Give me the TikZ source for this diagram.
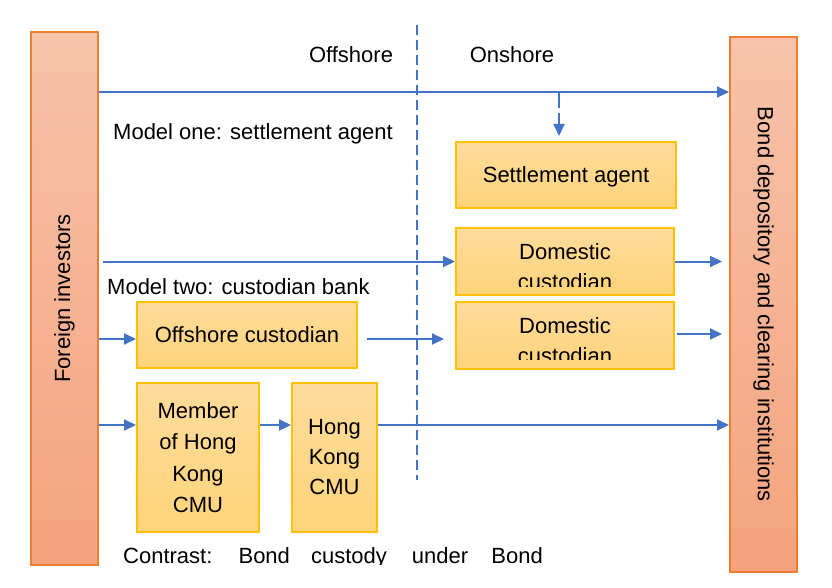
\documentclass[tikz,border=0pt]{standalone}
\usepackage{fontspec}
\setmainfont{Liberation Sans}
\usetikzlibrary{arrows.meta}

\definecolor{barTop}{HTML}{F7C3AA}
\definecolor{barBot}{HTML}{F4A37D}
\definecolor{barLine}{HTML}{ED7D31}
\definecolor{boxTop}{HTML}{FFDC9C}
\definecolor{boxBot}{HTML}{FFD37A}
\definecolor{boxLine}{HTML}{FFC000}
\definecolor{flowBlue}{HTML}{4472C4}

\tikzset{
  sidebar/.style={draw=barLine, line width=2pt, top color=barTop, bottom color=barBot,
    minimum width=67pt, inner sep=0pt},
  agentbox/.style={draw=boxLine, line width=2pt, top color=boxTop, bottom color=boxBot,
    align=center, inner sep=0pt},
  flow/.style={draw=flowBlue, line width=2pt, -{Triangle[length=12pt,width=11pt]}},
  caption/.style={inner sep=0pt}
}

\begin{document}
\begin{tikzpicture}[x=1pt, y=-1pt, font=\fontsize{22}{31}\selectfont]
    \useasboundingbox (0,0) rectangle (832,588);

    %side bars:
    \node[sidebar, minimum height=533pt, label={[rotate=90]center:Foreign investors}] (inv) at (64.5,298.5) {};
    \node[sidebar, minimum height=535pt, label={[rotate=-90]center:Bond depository and clearing institutions}] (dep) at (763.5,304.5) {};

    %boxes:
    \node[agentbox, minimum width=220pt, minimum height=66pt, text depth=0pt] (settle) at (566,175) {Settlement agent};
    \node[agentbox, minimum width=218pt, minimum height=67pt] (dom1) at (565,261.5) {};
    \node[agentbox, minimum width=220pt, minimum height=66pt] (offc) at (247,335) {Offshore custodian};
    \node[agentbox, minimum width=218pt, minimum height=67pt] (dom2) at (565,335.5) {};
    \node[agentbox, minimum width=122pt, minimum height=149pt, font=\fontsize{22}{31.5}\selectfont] (member) at (198,457.5) {Member\\of Hong\\Kong\\CMU};
    \node[agentbox, minimum width=85pt, minimum height=149pt, font=\fontsize{22}{30}\selectfont] (cmu) at (334.5,457.5) {Hong\\Kong\\CMU};

    %cut-off texts:
    \begin{scope}
        \clip (dom1.north west) rectangle ([yshift=10pt]dom1.south east);
        \node[caption, anchor=north, align=center, font=\fontsize{22}{30}\selectfont] (dom1text) at ([yshift=-16pt]dom1.north) {Domestic\\custodian};
    \end{scope}
    \begin{scope}
        \clip (dom2.north west) rectangle ([yshift=11pt]dom2.south east);
        \node[caption, anchor=north, align=center, font=\fontsize{22}{30}\selectfont] (dom2text) at ([yshift=-16pt]dom2.north) {Domestic\\custodian};
    \end{scope}
    \begin{scope}
        \clip (100,530) rectangle (600,564);
        \node[caption, anchor=base west] (contrast) at (123,563) {Contrast:\hspace{18pt} Bond\hspace{15pt} custody\hspace{19pt} under\hspace{17pt} Bond};
    \end{scope}

    %labels:
    \node[caption] (offlabel) at (351,54.5) {Offshore};
    \node[caption] (onlabel) at (512,54.5) {Onshore};
    \node[caption, anchor=base west] (modelone) at (113,140) {Model one: settlement agent};
    \node[caption, anchor=base west] (modeltwo) at (107,294) {Model two: custodian bank};

    %offshore / onshore border:
    \coordinate (divtop) at (417,25);
    \coordinate (divbot) at (417,480);
    \draw[flowBlue, line width=2pt, dash pattern=on 10pt off 5pt] (divtop) -- (divbot);

    %model one:
    \coordinate (rowone) at (0,92);
    \coordinate (split) at (559,92);
    \draw[flow] (inv.east |- rowone) -- (dep.west |- rowone);
    \draw[flow, dash pattern=on 16pt off 5pt, shorten >=5pt] (split) -- (split |- settle.north);

    %model two:
    \draw[flow, shorten <=4pt] (inv.east |- dom1.west) -- (dom1.west);
    \draw[flow, shorten >=7pt] (dom1.east) -- (dep.west |- dom1.east);
    \coordinate (rowtwo) at (0,339);
    \draw[flow] (inv.east |- rowtwo) -- (offc.west |- rowtwo);
    \draw[flow, shorten <=9pt, shorten >=11pt] (offc.east |- rowtwo) -- (dom2.west |- rowtwo);
    \coordinate (rowdom) at (0,334);
    \draw[flow, shorten <=2pt, shorten >=7pt] (dom2.east |- rowdom) -- (dep.west |- rowdom);

    %contrast:
    \coordinate (rowcmu) at (0,425);
    \draw[flow] (inv.east |- rowcmu) -- (member.west |- rowcmu);
    \draw[flow] (member.east |- rowcmu) -- (cmu.west |- rowcmu);
    \draw[flow] (cmu.east |- rowcmu) -- (dep.west |- rowcmu);

\end{tikzpicture}
\end{document}
